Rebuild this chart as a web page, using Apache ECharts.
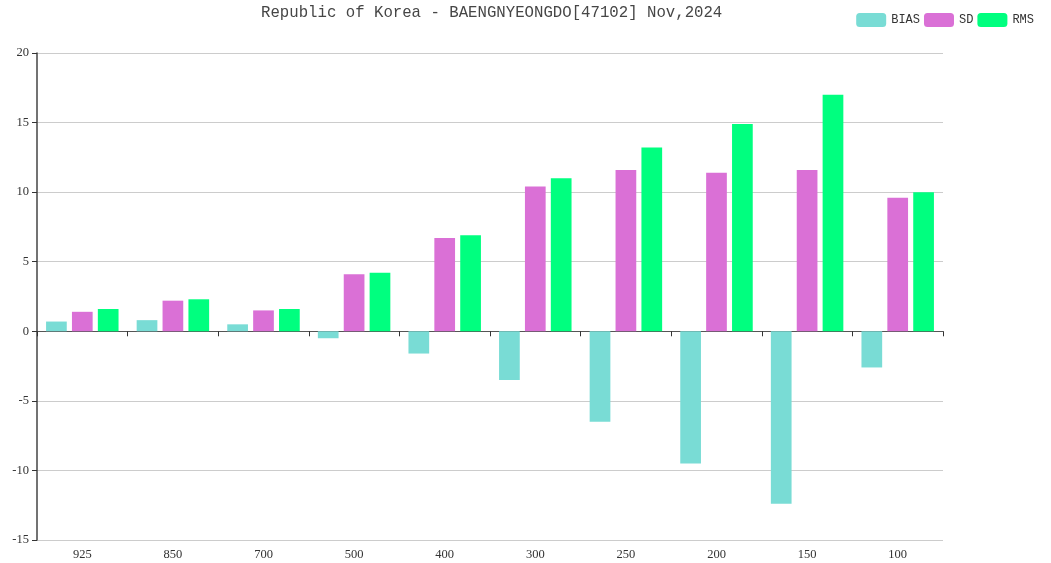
<!DOCTYPE html>
<html>
<head>
<meta charset="utf-8">
<script src="https://cdn.jsdelivr.net/npm/echarts@6/dist/echarts.min.js"></script>
<style>
  html, body { margin: 0; padding: 0; background: #fff; }
  #chart { width: 1051px; height: 563px; }
</style>
</head>
<body>
<div id="chart"></div>
<script>
// pressure levels (hPa)
var levels = ['925', '850', '700', '500', '400', '300', '250', '200', '150', '100'];
var biasData = [0.7, 0.8, 0.5, -0.5, -1.6, -3.5, -6.5, -9.5, -12.4, -2.6];
var sdData   = [1.4, 2.2, 1.5, 4.1, 6.7, 10.4, 11.6, 11.4, 11.6, 9.6];
var rmsData  = [1.6, 2.3, 1.6, 4.2, 6.9, 11.0, 13.2, 14.9, 17.0, 10.0];

var serif = 'Liberation Serif';
var mono = 'Liberation Mono';

var myChart = echarts.init(document.getElementById('chart'));

var option = {
  animation: false,
  title: {
    text: 'Republic of Korea - BAENGNYEONGDO[47102] Nov,2024',
    left: 256,
    top: 0,
    textStyle: { fontFamily: mono, fontSize: 15.7, fontWeight: 'normal', color: '#464646' }
  },
  legend: {
    right: 12,
    top: 8,
    itemWidth: 30,
    itemHeight: 14,
    itemGap: 4,
    textStyle: { fontFamily: mono, fontSize: 12, color: '#333' },
    data: ['BIAS', 'SD', 'RMS']
  },
  grid: { left: 37, right: 108, top: 53, bottom: 23, containLabel: false },
  xAxis: [{
    type: 'category',
    data: levels,
    position: 'bottom',
    axisLine: { show: false, onZero: false },
    axisTick: { show: false },
    axisLabel: { fontFamily: serif, fontSize: 12.5, color: '#333', margin: 8 }
  }, {
    type: 'category',
    data: levels,
    position: 'bottom',
    axisLine: { show: true, onZero: true, lineStyle: { color: '#555' } },
    axisTick: { show: true, length: 5, lineStyle: { color: '#333' } },
    axisLabel: { show: false }
  }],
  yAxis: {
    type: 'value',
    min: -15,
    max: 20,
    interval: 5,
    axisLine: { show: true, lineStyle: { color: '#444', width: 1.5 } },
    axisTick: { show: true, length: 5, lineStyle: { color: '#333' } },
    axisLabel: { fontFamily: serif, fontSize: 12.5, color: '#333', margin: 8 },
    splitLine: { lineStyle: { color: '#ccc' } }
  },
  series: [{
    name: 'BIAS',
    type: 'bar',
    xAxisIndex: 0,
    data: biasData,
    barGap: '25%',
    barCategoryGap: '20%',
    itemStyle: { color: '#79dcd5' }
  }, {
    name: 'SD',
    type: 'bar',
    xAxisIndex: 0,
    data: sdData,
    itemStyle: { color: '#da70d6' }
  }, {
    name: 'RMS',
    type: 'bar',
    xAxisIndex: 0,
    data: rmsData,
    itemStyle: { color: '#00ff7f' }
  }]
};

myChart.setOption(option);
</script>
</body>
</html>
